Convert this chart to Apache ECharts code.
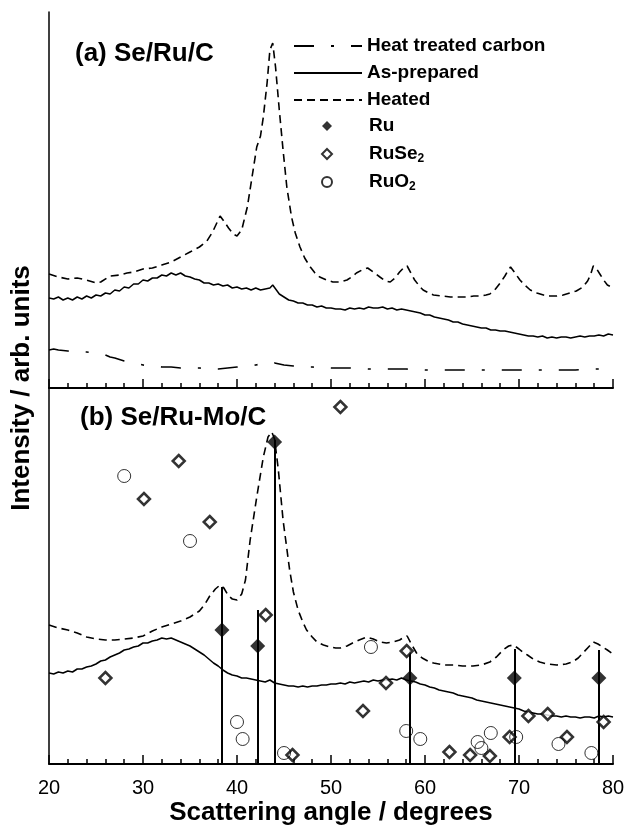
<!DOCTYPE html>
<html>
<head>
<meta charset="utf-8">
<script src="https://cdn.jsdelivr.net/npm/echarts@6/dist/echarts.min.js"></script>
<style>
  html, body { margin: 0; padding: 0; background: #fff; }
  #chart { width: 626px; height: 825px; }
</style>
</head>
<body>
<div id="chart"></div>
<script>
// XRD patterns, intensities in arbitrary units
const carbonA = [[20,38],[20.5,39],[21,38],[22,37],[23,36],[24,36],[25,35],[25.5,34],[26,33],[26.5,31],[27,30],[28,27],[29,25],[30,23],[31,22],[32,21],[33,21],[34,20],[35,20],[36,20],[37,19],[38,19],[39,20],[40,21],[41,22],[42,23],[43,25],[43.5,24],[44,25],[45,23],[46,22],[47,21],[48,21],[50,20],[52,20],[54,19],[56,19],[58,19],[60,18],[62,18],[64,18],[66,18],[68,18],[70,18],[72,18],[74,18],[76,18],[78,19],[80,19]];

const asPreparedA = [[20,90],[20.5,89],[21,91],[21.5,88],[22,90],[22.5,88],[23,91],[23.5,89],[24,92],[24.5,90],[25,93],[25.5,92],[26,95],[26.5,94],[27,98],[27.5,97],[28,101],[28.5,100],[29,104],[29.5,104],[30,108],[30.5,107],[31,110],[31.5,110],[32,113],[32.5,112],[33,115],[33.5,113],[34,115],[34.5,112],[35,111],[35.5,109],[36,108],[36.5,105],[37,105],[37.5,103],[38,104],[38.5,102],[39,103],[39.5,100],[40,101],[40.5,99],[41,100],[41.5,98],[42,100],[42.5,98],[43,99],[43.5,100],[43.8,103],[44,101],[44.5,94],[45,91],[45.5,88],[46,87],[46.5,85],[47,85],[47.5,83],[48,83],[48.5,81],[49,82],[49.5,80],[50,80],[50.5,79],[51,79],[51.5,78],[52,80],[52.5,79],[53,80],[53.5,79],[54,81],[54.5,80],[55,80],[55.5,81],[56,79],[56.5,80],[57,78],[57.5,79],[58,78],[58.5,77],[59,76],[59.5,75],[60,73],[60.5,73],[61,71],[61.5,70],[62,69],[62.5,68],[63,66],[63.5,66],[64,64],[64.5,63],[65,62],[65.5,61],[66,60],[66.5,60],[67,58],[67.5,58],[68,57],[68.5,57],[69,56],[69.5,55],[70,54],[70.5,53],[71,52],[71.5,52],[72,51],[72.5,52],[73,50],[73.5,51],[74,50],[74.5,51],[75,51],[75.5,50],[76,51],[76.5,52],[77,51],[77.5,52],[78,52],[78.5,53],[79,52],[79.5,54],[80,53]];

const heatedA = [[20,114],[21,111],[22,109],[23,110],[24,108],[25,105],[25.5,106],[26.5,112],[27.5,113],[28.3,115],[29,116],[30,119],[31,120],[32,123],[33,126],[34,131],[35,136],[36,141],[36.8,147],[37.4,156],[37.9,166],[38.2,172],[38.6,167],[39.1,160],[39.6,154],[40,152],[40.5,158],[41.1,181],[41.6,211],[42.1,241],[42.5,252],[42.8,271],[43.2,305],[43.5,338],[43.8,345],[44.1,321],[44.5,278],[44.9,238],[45.3,201],[45.8,171],[46.2,155],[46.7,141],[47.2,130],[47.8,121],[48.3,115],[48.8,111],[49.5,108],[50.2,106],[51,106],[51.7,108],[52.2,111],[52.7,115],[53.3,118],[53.9,120],[54.5,116],[55.2,111],[55.8,107],[56.3,106],[56.8,110],[57.3,116],[57.7,120],[58.1,122],[58.5,115],[58.9,108],[59.4,102],[59.8,98],[60.4,95],[60.9,93],[61.8,92],[62.7,91],[63.5,91],[64.4,91],[65.2,92],[65.9,92],[66.5,93],[66.9,94],[67.5,99],[68,105],[68.5,112],[68.8,117],[69.1,121],[69.5,116],[70.1,108],[70.6,103],[71.2,98],[71.9,95],[72.6,93],[73.3,92],[74,92],[74.7,93],[75.4,95],[76.1,97],[76.8,101],[77.3,107],[77.6,113],[77.9,122],[78.2,120],[78.6,114],[79,108],[79.4,103],[80,100]];

const heatedB = [[20,139],[21,136],[22,134],[23,131],[24,127],[25,125],[26,124],[27,124],[28,125],[29,126],[30,128],[31,133],[32,137],[33,140],[34,143],[35,147],[36,153],[36.6,160],[37.1,168],[37.7,175],[38.2,179],[38.6,176],[39.1,168],[39.5,165],[40,164],[40.5,170],[40.9,184],[41.4,224],[42.1,267],[42.8,307],[43.3,327],[43.7,332],[44,325],[44.4,294],[44.9,244],[45.6,194],[46,172],[46.5,154],[47,142],[47.4,134],[48,127],[48.5,122],[49.2,119],[49.9,117],[50.5,116],[51,116],[51.7,118],[52.3,121],[53,124],[53.8,127],[54.5,125],[55.2,122],[55.9,121],[56.6,122],[57.3,124],[57.8,127],[58.1,128],[58.6,119],[59.1,111],[59.7,106],[60.3,103],[60.9,101],[62,99],[63,99],[64,98],[65.1,98],[66,99],[66.9,102],[67.6,107],[68.3,114],[68.9,118],[69.4,119],[70,115],[70.5,111],[70.9,109],[71.5,105],[72.2,102],[73,100],[74,99],[75,100],[75.7,102],[76.3,106],[76.8,111],[77.4,117],[77.9,122],[78.4,120],[78.9,117],[79.4,114],[80,110]];

const asPreparedB = [[20,91],[20.5,90],[21,92],[21.5,91],[22,93],[22.5,92],[23,95],[23.5,95],[24,97],[24.5,98],[25,100],[25.5,103],[26,104],[26.5,107],[27,109],[27.5,111],[28,114],[28.5,115],[29,117],[29.5,118],[30,121],[30.5,121],[31,123],[31.5,124],[32,126],[32.5,125],[33,126],[33.5,124],[34,122],[34.5,120],[35,118],[35.5,115],[36,112],[36.5,109],[37,105],[37.5,101],[38,98],[38.5,94],[39,91],[39.5,89],[40,88],[40.5,86],[41,86],[41.5,85],[42,84],[42.5,83],[43,82],[43.5,84],[44,81],[44.5,80],[45,79],[45.5,78],[46,78],[46.5,77],[47,78],[47.5,77],[48,78],[48.5,78],[49,79],[49.5,79],[50,80],[50.5,80],[51,81],[51.5,80],[52,82],[52.5,81],[53,82],[53.5,83],[54,82],[54.5,84],[55,83],[55.5,84],[56,84],[56.5,85],[57,84],[57.5,86],[58,84],[58.5,83],[59,82],[59.5,80],[60,79],[60.5,77],[61,76],[61.5,74],[62,73],[62.5,72],[63,71],[63.5,69],[64,68],[64.5,67],[65,66],[65.5,64],[66,63],[66.5,62],[67,61],[67.5,60],[68,59],[68.5,58],[69,57],[69.5,56],[70,55],[70.5,53],[71,52],[71.5,51],[72,50],[72.5,50],[73,49],[73.5,48],[74,48],[74.5,47],[75,48],[75.5,47],[76,47],[76.5,46],[77,47],[77.5,47],[78,46],[78.5,48],[79,47],[79.5,48],[80,47]];

// reference patterns (panel b)
const ruAngles = [38.4, 42.2, 44.0, 58.4, 69.5, 78.5];
const ruMarks = [134, 118, 322, 86, 86, 86];
const ruStickTops = [177, 154, 324, 114, 115, 114];

const ruSe2Angles = [26.0, 30.1, 33.8, 37.1, 43.05, 45.9, 51.0, 53.4, 55.85, 58.05, 62.6, 64.8, 66.9, 69.0, 71.0, 73.05, 75.1, 79.0];
const ruSe2Marks = [86, 265, 303, 242, 149, 9, 357, 53, 81, 113, 12, 9, 8, 27, 48, 50, 27, 42];

const ruO2Angles = [28.0, 35.0, 40.0, 40.6, 45.0, 54.25, 58.0, 59.5, 65.6, 66.0, 67.0, 69.7, 74.2, 77.7];
const ruO2Marks = [288, 223, 42, 25, 11, 117, 33, 25, 22, 16, 31, 27, 20, 11];

const xTicks = [20, 30, 40, 50, 60, 70, 80];

const FONT = "'Liberation Sans', Arial, sans-serif";
const DIAMOND_ICON = 'path://M5,0 L10,5 L5,10 L0,5 Z';
const zip = (xs, ys) => xs.map((x, i) => [x, ys[i]]);

const chart = echarts.init(document.getElementById('chart'), null, { renderer: 'canvas' });

function xAxisFor(gridIndex, showLabels) {
  return {
    type: 'value', gridIndex, min: xTicks[0], max: xTicks[xTicks.length - 1], interval: 10,
    axisLine: { show: true, onZero: false, lineStyle: { color: '#000', width: 2 } },
    axisTick: { show: true, inside: true, length: 9, lineStyle: { color: '#000', width: 1.5 } },
    minorTick: { show: true, splitNumber: 5, length: 5, lineStyle: { color: '#000', width: 1.5 } },
    splitLine: { show: false },
    axisLabel: { show: showLabels, color: '#000', fontSize: 20, fontFamily: FONT, margin: 14 },
    name: showLabels ? 'Scattering angle / degrees' : '',
    nameLocation: 'middle', nameGap: 36,
    nameTextStyle: { color: '#000', fontSize: 26, fontWeight: 'bold', fontFamily: FONT }
  };
}
function yAxisFor(gridIndex) {
  return {
    type: 'value', gridIndex, min: 0, max: 376,
    axisLine: { show: true, lineStyle: { color: '#000', width: 1.5 } },
    axisTick: { show: false }, axisLabel: { show: false }, splitLine: { show: false }
  };
}

const lineBase = { type: 'line', symbol: 'none', showSymbol: false, smooth: false, silent: true, itemStyle: { color: '#000' } };

const option = {
  animation: false,
  backgroundColor: '#fff',
  grid: [
    { left: 49, right: 13, top: 12, height: 376, outerBoundsMode: 'none', containLabel: false },
    { left: 49, right: 13, top: 388, height: 376, outerBoundsMode: 'none', containLabel: false }
  ],
  xAxis: [xAxisFor(0, false), xAxisFor(1, true)],
  yAxis: [yAxisFor(0), yAxisFor(1)],
  legend: [
    {
      data: ['Heat treated carbon', 'As-prepared', 'Heated'],
      orient: 'vertical', left: 293, top: 36, padding: 0,
      itemWidth: 68, itemHeight: 14, itemGap: 7, selectedMode: false,
      itemStyle: { opacity: 0 },
      textStyle: { color: '#000', fontSize: 19, fontWeight: 'bold', fontFamily: FONT, lineHeight: 20 }
    },
    {
      data: [
        { name: 'Ru', icon: DIAMOND_ICON },
        { name: 'RuSe2', icon: DIAMOND_ICON },
        { name: 'RuO2', icon: 'circle' }
      ],
      orient: 'vertical', left: 321, top: 115, padding: 0,
      itemWidth: 10, itemHeight: 10, itemGap: 6, selectedMode: false,
      formatter: function (name) {
        if (name === 'RuSe2') return 'RuSe{sub|2}';
        if (name === 'RuO2') return 'RuO{sub|2}';
        return name;
      },
      textStyle: {
        color: '#000', fontSize: 19, fontWeight: 'bold', fontFamily: FONT, lineHeight: 22,
        padding: [0, 0, 0, 32],
        rich: { sub: { fontSize: 12, fontWeight: 'bold', fontFamily: FONT, color: '#000', verticalAlign: 'bottom', lineHeight: 12 } }
      }
    }
  ],
  graphic: [
    { type: 'text', left: 75, top: 41, style: { text: '(a) Se/Ru/C', fill: '#000', font: "bold 26px 'Liberation Sans', Arial, sans-serif" } },
    { type: 'text', left: 80, top: 405, style: { text: '(b) Se/Ru-Mo/C', fill: '#000', font: "bold 26px 'Liberation Sans', Arial, sans-serif" } },
    {
      type: 'text', x: 22, y: 388, rotation: Math.PI / 2,
      style: { text: 'Intensity / arb. units', fill: '#000', font: "bold 26px 'Liberation Sans', Arial, sans-serif", textAlign: 'center', textVerticalAlign: 'middle' }
    }
  ],
  series: [
    Object.assign({}, lineBase, { name: 'Heat treated carbon', xAxisIndex: 0, yAxisIndex: 0, data: carbonA,
      lineStyle: { color: '#000', width: 1.6, type: [20, 17, 3, 17] } }),
    Object.assign({}, lineBase, { name: 'As-prepared', xAxisIndex: 0, yAxisIndex: 0, data: asPreparedA,
      lineStyle: { color: '#000', width: 1.5, type: 'solid' } }),
    Object.assign({}, lineBase, { name: 'Heated', xAxisIndex: 0, yAxisIndex: 0, data: heatedA,
      lineStyle: { color: '#000', width: 1.6, type: [8, 5] } }),
    Object.assign({}, lineBase, { name: 'Heated (b)', xAxisIndex: 1, yAxisIndex: 1, data: heatedB,
      lineStyle: { color: '#000', width: 1.6, type: [8, 5] } }),
    Object.assign({}, lineBase, { name: 'As-prepared (b)', xAxisIndex: 1, yAxisIndex: 1, data: asPreparedB,
      lineStyle: { color: '#000', width: 1.5, type: 'solid' } }),
    {
      name: 'Ru', type: 'scatter', xAxisIndex: 1, yAxisIndex: 1, silent: true, z: 5,
      symbol: 'diamond', symbolSize: 15,
      itemStyle: { color: '#000', borderWidth: 0 },
      data: zip(ruAngles, ruMarks),
      markLine: {
        silent: true, symbol: 'none', label: { show: false }, z: 4,
        lineStyle: { color: '#000', width: 2, type: 'solid' },
        data: ruAngles.map((a, i) => [{ coord: [a, 0] }, { coord: [a, ruStickTops[i]] }])
      }
    },
    {
      name: 'RuSe2', type: 'scatter', xAxisIndex: 1, yAxisIndex: 1, silent: true, z: 6,
      symbol: 'diamond', symbolSize: 12,
      itemStyle: { color: '#fff', borderColor: '#000', borderWidth: 2.5 },
      data: zip(ruSe2Angles, ruSe2Marks)
    },
    {
      name: 'RuO2', type: 'scatter', xAxisIndex: 1, yAxisIndex: 1, silent: true, z: 6,
      symbol: 'circle', symbolSize: 13,
      itemStyle: { color: 'rgba(255,255,255,0)', borderColor: '#000', borderWidth: 1 },
      data: zip(ruO2Angles, ruO2Marks)
    }
  ]
};

chart.setOption(option);
</script>
</body>
</html>
